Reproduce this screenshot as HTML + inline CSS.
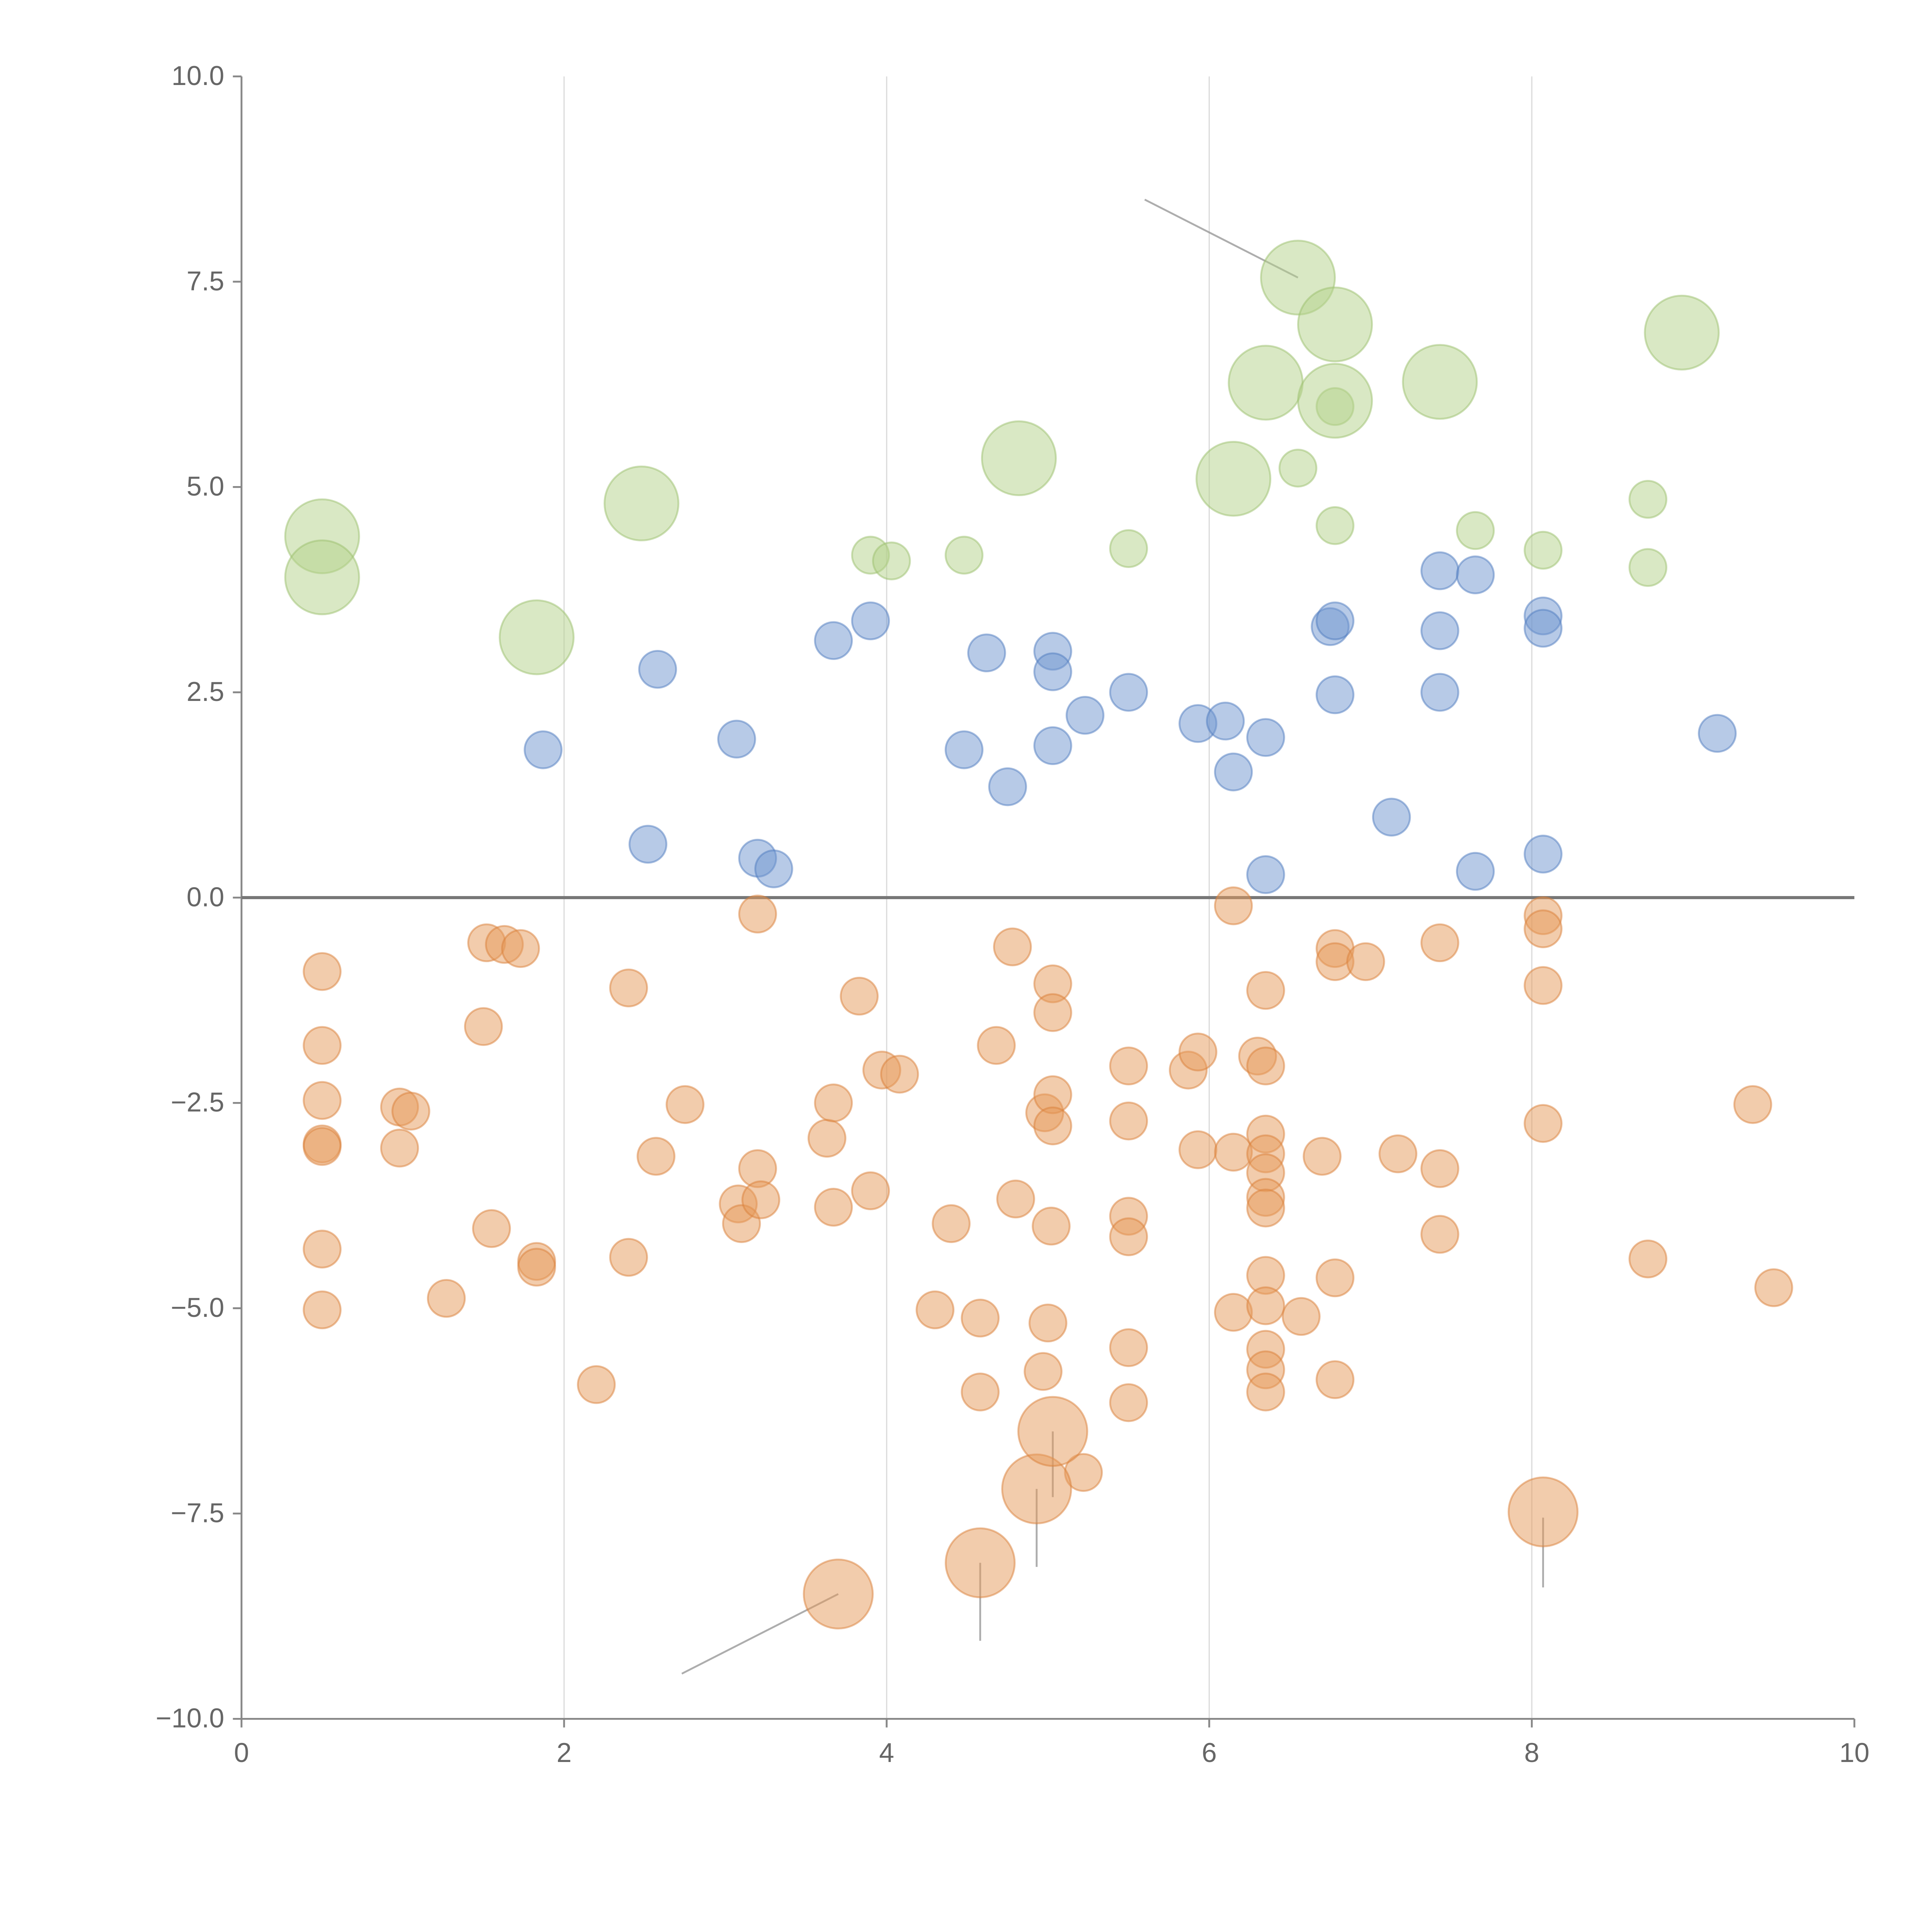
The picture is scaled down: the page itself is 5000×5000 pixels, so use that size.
<!DOCTYPE html>
<html><head><meta charset="utf-8"><style>html,body{margin:0;padding:0;background:#fff}svg{display:block}</style></head>
<body>
<svg id="chart" width="5000" height="5000" viewBox="0 0 1568 1568" xmlns="http://www.w3.org/2000/svg" font-family="Liberation Sans, sans-serif">
<g id="grid"></g>
<g id="axes"></g>
<g id="lines"></g>
<g id="marks"></g>
</svg>
<script>
const xTicks=[0,2,4,6,8,10];
const yTicks=[10,7.5,5,2.5,0,-2.5,-5,-7.5,-10];
const yTickLabels=["10.0","7.5","5.0","2.5","0.0","\u22122.5","\u22125.0","\u22127.5","\u221210.0"];
const greenBigX=[0.5,0.5,1.83,2.48,4.82,6.15,6.35,6.55,6.78,6.78,7.43,8.93];
const greenBigY=[4.4,3.9,3.17,4.8,5.35,5.1,6.27,7.55,6.98,6.05,6.28,6.88];
const greenX=[3.9,4.03,4.48,5.5,6.55,6.78,6.78,7.65,8.07,8.72,8.72];
const greenY=[4.17,4.1,4.17,4.25,5.23,4.53,5.98,4.47,4.23,4.85,4.02];
const blueX=[1.87,2.58,2.52,3.07,3.2,3.3,3.67,3.9,4.48,4.62,4.75,5.03,5.03,5.03,5.23,5.5,5.93,6.1,6.15,6.35,6.35,6.75,6.78,6.78,7.13,7.43,7.43,7.43,7.65,7.65,8.07,8.07,8.07,9.15];
const blueY=[1.8,2.78,0.65,1.93,0.48,0.35,3.13,3.37,1.8,2.98,1.35,3.0,2.75,1.85,2.22,2.5,2.12,2.15,1.53,1.95,0.28,3.3,3.37,2.47,0.98,3.98,3.25,2.5,3.93,0.32,3.43,3.28,0.53,2.0];
const orangeX=[0.5,0.5,0.5,0.5,0.5,0.5,0.5,0.98,1.05,0.98,1.27,1.52,1.5,1.63,1.73,1.55,1.83,1.83,2.2,2.4,2.4,2.57,2.75,3.08,3.1,3.2,3.22,3.2,3.63,3.67,3.67,3.83,3.9,3.97,4.08,4.3,4.4,4.58,4.58,4.68,4.78,4.8,4.97,4.98,5.0,5.02,5.03,5.03,5.03,5.03,5.22,5.5,5.5,5.5,5.5,5.5,5.5,5.87,5.93,5.93,6.15,6.15,6.15,6.3,6.35,6.35,6.35,6.35,6.35,6.35,6.35,6.35,6.35,6.35,6.35,6.35,6.57,6.7,6.78,6.78,6.78,6.78,6.97,7.17,7.43,7.43,7.43,8.07,8.07,8.07,8.07,8.72,9.37,9.5];
const orangeY=[-0.9,-1.8,-2.47,-3.0,-3.03,-4.28,-5.02,-2.55,-2.6,-3.05,-4.88,-0.55,-1.57,-0.57,-0.62,-4.03,-4.43,-4.5,-5.93,-1.1,-4.38,-3.15,-2.52,-3.73,-3.97,-3.3,-3.68,-0.2,-2.93,-2.5,-3.77,-1.2,-3.57,-2.1,-2.15,-5.02,-3.97,-5.12,-6.02,-1.8,-0.6,-3.67,-5.77,-2.62,-5.18,-4.0,-1.05,-1.4,-2.4,-2.78,-7.0,-2.05,-2.72,-3.88,-4.13,-5.48,-6.15,-2.1,-1.88,-3.07,-0.1,-3.1,-5.05,-1.93,-1.13,-2.05,-2.88,-3.12,-3.35,-3.65,-3.78,-4.6,-4.97,-5.5,-5.75,-6.02,-5.1,-3.15,-0.62,-0.78,-4.63,-5.87,-0.78,-3.12,-0.55,-3.3,-4.1,-0.22,-0.38,-1.07,-2.75,-4.4,-2.52,-4.75];
const orangeBigX=[3.7,4.58,4.93,5.03,8.07];
const orangeBigY=[-8.48,-8.1,-7.2,-6.5,-7.48];
const leadX1=[6.55,3.7,4.58,4.93,5.03,8.07];
const leadY1=[7.55,-8.48,-8.1,-7.2,-6.5,-7.55];
const leadX2=[5.6,2.73,4.58,4.93,5.03,8.07];
const leadY2=[8.5,-9.45,-9.05,-8.15,-7.3,-8.4];

const X=v=>196+v*130.9, Y=v=>62+(10-v)*66.65;
const NS="http://www.w3.org/2000/svg";
function mk(tag,parent,attrs){const e=document.createElementNS(NS,tag);for(const k in attrs)e.setAttribute(k,attrs[k]);parent.appendChild(e);return e;}
const grid=document.getElementById('grid'),axes=document.getElementById('axes'),lines=document.getElementById('lines'),marks=document.getElementById('marks');
[2,4,6,8].forEach(t=>{const l=mk('line',grid,{x1:X(t),x2:X(t),y1:Y(10),y2:Y(-10),stroke:'#dcdcdc','stroke-width':1});

});
let a=mk('line',axes,{x1:X(0),x2:X(0),y1:Y(10),y2:Y(-10),stroke:'#888','stroke-width':1.5});


a=mk('line',axes,{x1:X(0),x2:X(10),y1:Y(-10),y2:Y(-10),stroke:'#888','stroke-width':1.5});


xTicks.forEach(t=>{mk('line',axes,{x1:X(t),x2:X(t),y1:Y(-10),y2:Y(-10)+7,stroke:'#888','stroke-width':1.5});
const tx=mk('text',axes,{x:X(t),y:Y(-10)+35,'text-anchor':'middle','font-size':22,fill:'#666'});tx.textContent=t;

});
yTicks.forEach((t,i)=>{mk('line',axes,{x1:X(0)-7,x2:X(0),y1:Y(t),y2:Y(t),stroke:'#888','stroke-width':1.5});
const tx=mk('text',axes,{x:X(0)-14,y:Y(t)+7,'text-anchor':'end','font-size':22,fill:'#666'});tx.textContent=yTickLabels[i];

});
function bubbles(xs,ys,r,fill,stroke,name){xs.forEach((x,i)=>{const c=mk('circle',marks,{cx:X(x),cy:Y(ys[i]),r:r,fill:fill,'fill-opacity':0.5,stroke:stroke,'stroke-opacity':0.5,'stroke-width':1.5});

});}
bubbles(orangeX,orangeY,15,'#e6995a','#d9803a','orange-point');
bubbles(orangeBigX,orangeBigY,28,'#e6995a','#d9803a','orange-big-point');
bubbles(blueX,blueY,15,'#7096cf','#4f7cc0','blue-point');
bubbles(greenX,greenY,15,'#b3d18a','#9cc06e','green-point');
bubbles(greenBigX,greenBigY,30,'#b3d18a','#9cc06e','green-big-point');
leadX1.forEach((x,i)=>{const l=mk('line',lines,{x1:X(x),y1:Y(leadY1[i]),x2:X(leadX2[i]),y2:Y(leadY2[i]),stroke:'#999','stroke-width':1.5,'stroke-opacity':0.8});

});
const z=mk('line',axes,{x1:X(0),x2:X(10),y1:Y(0),y2:Y(0),stroke:'#777','stroke-width':2.5});


</script>
</body></html>
